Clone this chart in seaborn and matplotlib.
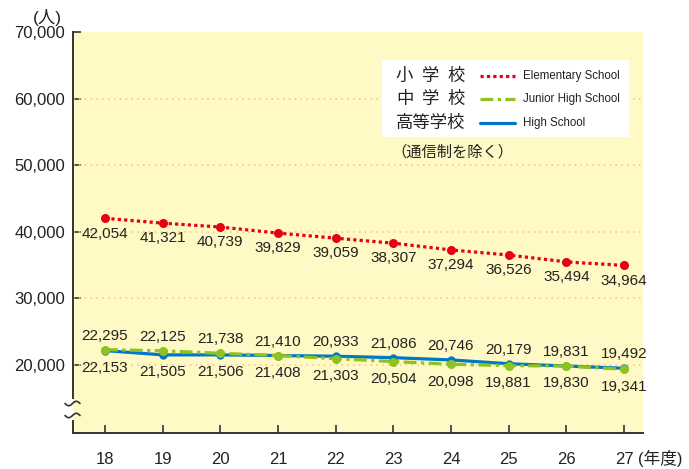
import matplotlib
matplotlib.use("Agg")
import matplotlib.pyplot as plt
import seaborn as sns
import pandas as pd
import numpy as np
from matplotlib.lines import Line2D
from matplotlib.patches import Rectangle

# ---- data ----
years = [18, 19, 20, 21, 22, 23, 24, 25, 26, 27]
elementary = [42054, 41321, 40739, 39829, 39059, 38307, 37294, 36526, 35494, 34964]
junior_high = [22295, 22125, 21738, 21410, 20933, 20504, 20098, 19881, 19830, 19341]
high_school = [22153, 21505, 21506, 21408, 21303, 21086, 20746, 20179, 19831, 19492]
yticks = [20000, 30000, 40000, 50000, 60000, 70000]
legend_jp = ["小学校", "中学校", "高等学校"]
legend_en = ["Elementary School", "Junior High School", "High School"]

RED = "#E60012"
GREEN = "#8DC21F"
BLUE = "#0078C8"
BG = "#FFF9C6"
GRID = "#F8C98A"

sns.set_style("ticks")
plt.rcParams['font.family'] = ['Liberation Sans', 'Noto Sans CJK JP', 'DejaVu Sans']
JP = ['Noto Sans CJK JP', 'DejaVu Sans']
MIX = ['Liberation Sans', 'Noto Sans CJK JP', 'DejaVu Sans']

df = pd.DataFrame({"year": years, "elem": elementary, "jh": junior_high, "hs": high_school})

fig = plt.figure(figsize=(6.89, 4.69), dpi=100)
L, R, T, B = 73.3, 643.0, 32.5, 432.7
W, H = 689.0, 469.0
ax = fig.add_axes([L / W, 1 - B / H, (R - L) / W, (B - T) / H])
ax.set_facecolor(BG)

def ax_xy(px, py):
    return ((px - L) / (R - L), 1 - (py - T) / (B - T))

# grid lines
for y in yticks[:-1]:
    ax.axhline(y, color=GRID, lw=1.2, ls=(0, (1, 2.5)), zorder=1)

lw = 2.3
sns.lineplot(data=df, x="year", y="hs", ax=ax, color=BLUE, lw=lw, marker="o",
             markersize=6, markeredgewidth=0, zorder=3)
sns.lineplot(data=df, x="year", y="jh", ax=ax, color=GREEN, lw=lw, marker="o",
             markersize=6.5, markeredgewidth=0, zorder=4)
sns.lineplot(data=df, x="year", y="elem", ax=ax, color=RED, lw=lw, marker="o",
             markersize=6.5, markeredgewidth=0, zorder=5)
for ln in ax.get_lines():
    c = matplotlib.colors.to_hex(ln.get_color()).upper()
    if c == GREEN.upper():
        ln.set_linestyle((0, (4, 1.4, 1, 1.4)))
    elif c == RED.upper():
        ln.set_linestyle((0, (1, 1)))
        ln.set_dash_capstyle("butt")

ax.set_xlim(17.45, 27.33)
ax.set_ylim(9800, 70000)
ax.set_yticks(yticks)
ax.set_yticklabels([f"{v:,}" for v in yticks], fontsize=12, color="#222222")
ax.set_xticks(years)
ax.set_xticklabels([str(y) for y in years], fontsize=12, color="#222222")
ax.tick_params(axis="both", direction="in", length=6, width=1.2, color="#333333")
ax.tick_params(axis="x", pad=14)
ax.tick_params(axis="y", pad=6)
ax.set_xlabel("")
ax.set_ylabel("")
for s in ["top", "right"]:
    ax.spines[s].set_visible(False)
for s in ["left", "bottom"]:
    ax.spines[s].set_color("#333333")
    ax.spines[s].set_linewidth(1.4)

# elementary labels
for x, v in zip(years, elementary):
    ax.annotate(f"{v:,}", (x, v), xytext=(0, -11), textcoords="offset points",
                ha="center", va="center", fontsize=11, color="#222222", zorder=6)

# junior/high labels: upper row and lower row
for i, x in enumerate(years):
    top_v = junior_high[i] if i < 5 else high_school[i]
    bot_v = high_school[i] if i < 5 else junior_high[i]
    hi = max(junior_high[i], high_school[i])
    lo = min(junior_high[i], high_school[i])
    ax.annotate(f"{top_v:,}", (x, hi), xytext=(0, 10), textcoords="offset points",
                ha="center", va="center", fontsize=11, color="#222222", zorder=6)
    ax.annotate(f"{bot_v:,}", (x, lo), xytext=(0, -12.5), textcoords="offset points",
                ha="center", va="center", fontsize=11, color="#222222", zorder=6)

# axis break on y axis
_, yb1 = ax_xy(0, 420)
_, yb2 = ax_xy(0, 399)
ax.add_patch(Rectangle((-0.02, yb1), 0.04, yb2 - yb1, transform=ax.transAxes,
                       facecolor="white", edgecolor="none", clip_on=False, zorder=10))
ax.add_patch(Rectangle((0.0, yb1), 0.02, yb2 - yb1, transform=ax.transAxes,
                       facecolor=BG, edgecolor="none", clip_on=False, zorder=10))
t = np.linspace(0, 1, 40)
for py in (403.5, 415.5):
    xs = (65 + 15 * t - L) / (R - L)
    ys = 1 - (py + 2.2 * np.sin(2 * np.pi * t) - T) / (B - T)
    ax.plot(xs, ys, transform=ax.transAxes, color="#333333", lw=1.2,
            clip_on=False, zorder=11)

# legend box
bx0, by0 = ax_xy(381.7, 136.7)
bx1, by1 = ax_xy(629, 60)
ax.add_patch(Rectangle((bx0, by0), bx1 - bx0, by1 - by0, transform=ax.transAxes,
                       facecolor="white", edgecolor="none", zorder=7))
rows_y = [75.7, 99.3, 123.3]
styles = [dict(color=RED, ls=(0, (1, 1)), dash_capstyle="butt"),
          dict(color=GREEN, ls=(0, (4, 1.4, 1, 1.4))),
          dict(color=BLUE, ls="-")]
for lab, en, py, st in zip(legend_jp, legend_en, rows_y, styles):
    if len(lab) == 3:
        for ch, cx in zip(lab, [404.5, 430.5, 456.5]):
            xa, ya = ax_xy(cx, py)
            ax.text(xa, ya, ch, transform=ax.transAxes, ha="center", va="center",
                    fontsize=12.5, family=JP, color="#222222", zorder=8)
    else:
        xa, ya = ax_xy(396, py)
        ax.text(xa, ya, lab, transform=ax.transAxes, ha="left", va="center",
                fontsize=12.5, family=JP, color="#222222", zorder=8)
    lx0, ly = ax_xy(480, py)
    lx1, _ = ax_xy(515, py)
    ax.add_line(Line2D([lx0, lx1], [ly, ly], transform=ax.transAxes, lw=2.3, zorder=8, **st))
    xa, ya = ax_xy(523, py)
    ax.text(xa, ya, en, transform=ax.transAxes, ha="left", va="center",
            fontsize=8.3, family=['Liberation Sans', 'DejaVu Sans'],
            color="#222222", zorder=8)

xa, ya = ax_xy(391, 152)
ax.text(xa, ya, "（通信制を除く）", transform=ax.transAxes, ha="left", va="center",
        fontsize=11, family=JP, color="#222222")

# unit labels
fig.text(47 / W, 1 - 18 / H, "(人)", ha="center", va="center", fontsize=12.5,
         family=MIX, color="#222222")
fig.text(638 / W, 1 - 458 / H, "(年度)", ha="left", va="center", fontsize=12,
         family=MIX, color="#222222")

fig.savefig("out.png", dpi=100)
